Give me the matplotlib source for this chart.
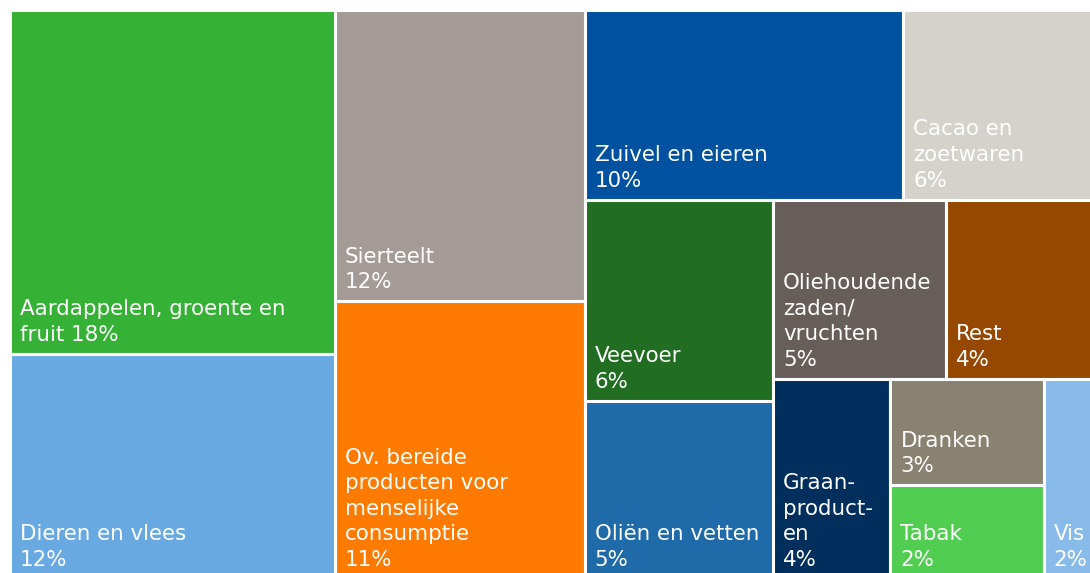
import matplotlib
matplotlib.use('Agg')
import matplotlib.pyplot as plt
from matplotlib.patches import Rectangle

# Share of export value per product group (%), in drawing order
names = ['Aardappelen, groente en\nfruit ', 'Dieren en vlees\n', 'Sierteelt\n',
         'Ov. bereide\nproducten voor\nmenselijke\nconsumptie\n', 'Zuivel en eieren\n',
         'Cacao en\nzoetwaren\n', 'Veevoer\n', 'Oliën en vetten\n',
         'Oliehoudende\nzaden/\nvruchten\n', 'Rest\n', 'Graan-\nproduct-\nen\n',
         'Dranken\n', 'Tabak\n', 'Vis\n']
shares = [18.07, 11.86, 11.79, 11.23, 9.77, 5.92, 6.15, 5.43, 5.01, 4.35, 3.80, 2.65, 2.32, 1.70]
colors = ['#35b135', '#69a9e1', '#a49b96', '#fe7a00', '#0052a0', '#d5d2cc', '#216d21',
          '#1f6aa9', '#675e59', '#964800', '#002f5d', '#8a8270', '#51cd51', '#88bbe9']


def worst(row, side):
    s = sum(row)
    return max(max(side * side * r / (s * s), s * s / (side * side * r)) for r in row)


def squarify(vals, x, y, w, h):
    # classic squarified layout, values kept in the given order
    rects = []
    vals = list(vals)
    while vals:
        side = min(w, h)
        row = [vals.pop(0)]
        while vals and worst(row + [vals[0]], side) <= worst(row, side):
            row.append(vals.pop(0))
        s = sum(row)
        if w >= h:  # column on the left
            cw = s / h
            yy = y
            for r in row:
                rects.append((x, yy, cw, r / cw))
                yy += r / cw
            x += cw
            w -= cw
        else:  # row along the top
            rh = s / w
            xx = x
            for r in row:
                rects.append((xx, y, r / rh, rh))
                xx += r / rh
            y += rh
            h -= rh
    return rects


fig = plt.figure(figsize=(10.9, 5.73), dpi=100)
# plot area runs slightly past the right and bottom edge of the picture
W, H = 1086.0, 569.0
ax = fig.add_axes([10 / 1090, (573 - 579) / 573, W / 1090, H / 573])
ax.set_xlim(0, W)
ax.set_ylim(H, 0)
ax.axis('off')

total = sum(shares)
areas = [v / total * W * H for v in shares]
for (x, y, w, h), name, v, c in zip(squarify(areas, 0, 0, W, H), names, shares, colors):
    ax.add_patch(Rectangle((x, y), w, h, facecolor=c, edgecolor='white', linewidth=2.2))
    ax.text(x + 10, y + h - 9, f'{name}{round(v)}%', color='white', fontsize=15.4,
            family='DejaVu Sans', ha='left', va='bottom', linespacing=1.35)

fig.savefig('out.png', dpi=100)
